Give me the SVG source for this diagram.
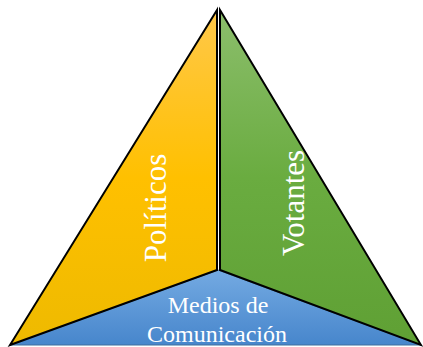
<svg xmlns="http://www.w3.org/2000/svg" width="423" height="347" viewBox="0 0 423 347">
<defs>
<linearGradient id="gy" x1="0" y1="0" x2="0" y2="1">
<stop offset="0" stop-color="#FFC84A"/>
<stop offset="0.5" stop-color="#FFC000"/>
<stop offset="1" stop-color="#EEBA00"/>
</linearGradient>
<linearGradient id="gg" x1="0" y1="0" x2="0" y2="1">
<stop offset="0" stop-color="#8CBE6C"/>
<stop offset="0.5" stop-color="#6AAC40"/>
<stop offset="1" stop-color="#5FA034"/>
</linearGradient>
<linearGradient id="gb" x1="0" y1="0" x2="0" y2="1">
<stop offset="0" stop-color="#74AAE2"/>
<stop offset="1" stop-color="#4786CC"/>
</linearGradient>
</defs>
<style>
.lbl{font-family:"Liberation Serif","Times New Roman",serif;fill:#FFFFFF;text-anchor:middle}
.edge{stroke:#000;stroke-width:2;stroke-linejoin:miter}
</style>
<g id="medios">
<polygon points="10,345 218,270 421,345" fill="url(#gb)" stroke="#3F6E9E" stroke-width="1"/>
<text class="lbl" x="218" y="313" font-size="24">Medios de</text>
<text class="lbl" x="217" y="342" font-size="24">Comunicación</text>
</g>
<g id="politicos">
<polygon class="edge" points="217,10 10,345 217,270" fill="url(#gy)"/>
<text class="lbl" font-size="31" transform="translate(166,208) rotate(-90)">Políticos</text>
</g>
<g id="votantes">
<polygon class="edge" points="220,10 421,345 220,270" fill="url(#gg)"/>
<text class="lbl" font-size="31" transform="translate(304,203) rotate(-90)">Votantes</text>
</g>
<g id="connectors"/>
</svg>
